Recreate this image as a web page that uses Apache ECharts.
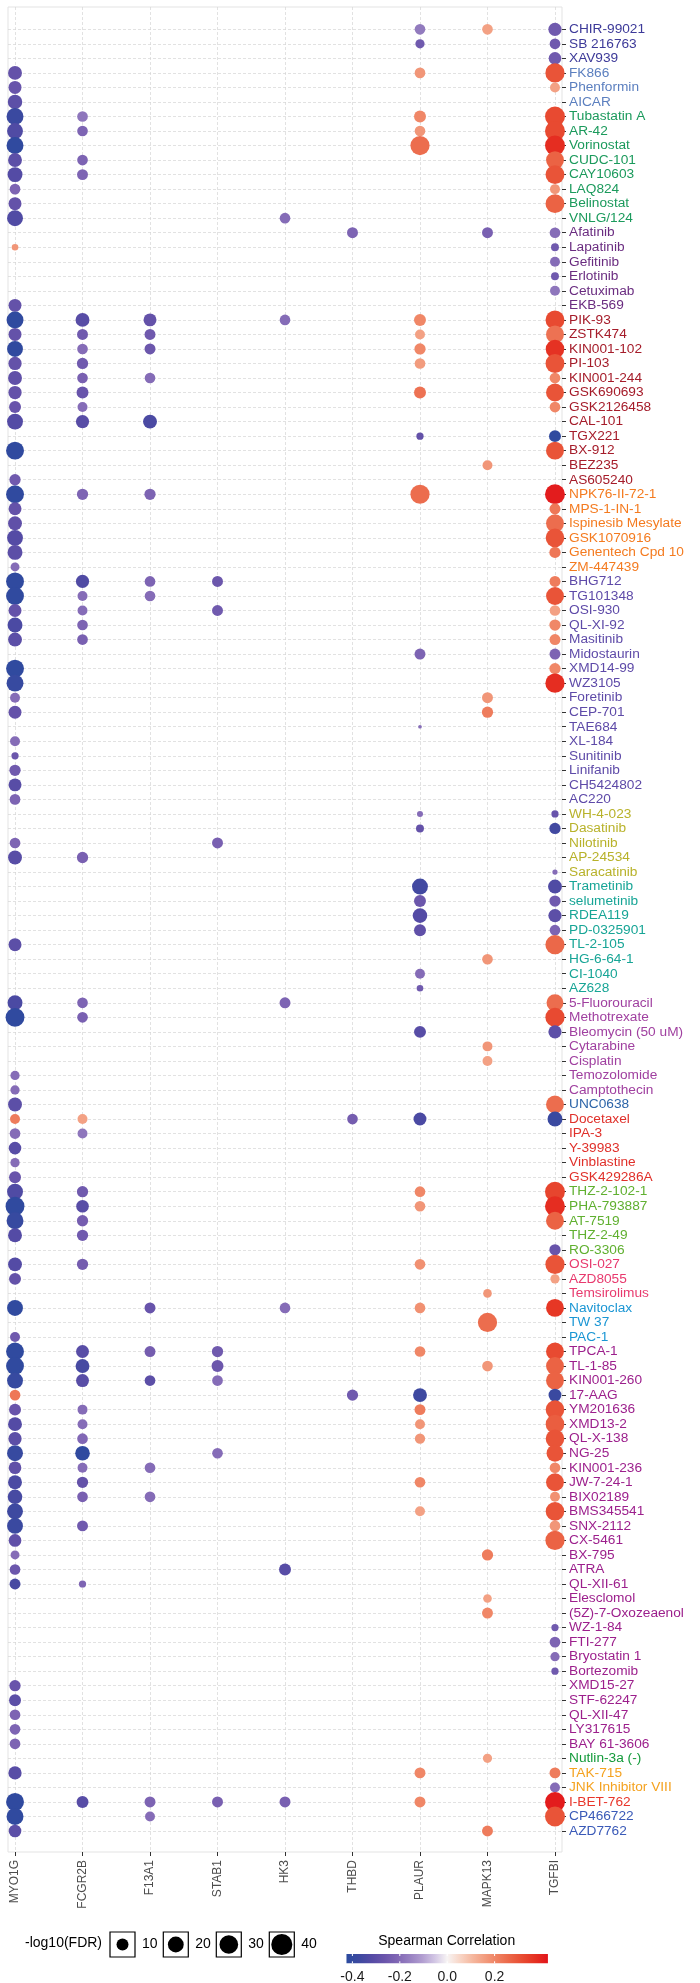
<!DOCTYPE html>
<html><head><meta charset="utf-8">
<script src="https://cdn.jsdelivr.net/npm/echarts@6/dist/echarts.min.js"></script>
<style>html,body{margin:0;padding:0;background:#fff}#c{width:700px;height:1983px}</style>
</head><body><div id="c"></div>
<script>
const genes = ['MYO1G','FCGR2B','F13A1','STAB1','HK3','THBD','PLAUR','MAPK13','TGFBI'];
const drugs = ['CHIR-99021','SB 216763','XAV939','FK866','Phenformin','AICAR','Tubastatin A','AR-42','Vorinostat','CUDC-101','CAY10603','LAQ824','Belinostat','VNLG/124','Afatinib','Lapatinib','Gefitinib','Erlotinib','Cetuximab','EKB-569','PIK-93','ZSTK474','KIN001-102','PI-103','KIN001-244','GSK690693','GSK2126458','CAL-101','TGX221','BX-912','BEZ235','AS605240','NPK76-II-72-1','MPS-1-IN-1','Ispinesib Mesylate','GSK1070916','Genentech Cpd 10','ZM-447439','BHG712','TG101348','OSI-930','QL-XI-92','Masitinib','Midostaurin','XMD14-99','WZ3105','Foretinib','CEP-701','TAE684','XL-184','Sunitinib','Linifanib','CH5424802','AC220','WH-4-023','Dasatinib','Nilotinib','AP-24534','Saracatinib','Trametinib','selumetinib','RDEA119','PD-0325901','TL-2-105','HG-6-64-1','CI-1040','AZ628','5-Fluorouracil','Methotrexate','Bleomycin (50 uM)','Cytarabine','Cisplatin','Temozolomide','Camptothecin','UNC0638','Docetaxel','IPA-3','Y-39983','Vinblastine','GSK429286A','THZ-2-102-1','PHA-793887','AT-7519','THZ-2-49','RO-3306','OSI-027','AZD8055','Temsirolimus','Navitoclax','TW 37','PAC-1','TPCA-1','TL-1-85','KIN001-260','17-AAG','YM201636','XMD13-2','QL-X-138','NG-25','KIN001-236','JW-7-24-1','BIX02189','BMS345541','SNX-2112','CX-5461','BX-795','ATRA','QL-XII-61','Elesclomol','(5Z)-7-Oxozeaenol','WZ-1-84','FTI-277','Bryostatin 1','Bortezomib','XMD15-27','STF-62247','QL-XII-47','LY317615','BAY 61-3606','Nutlin-3a (-)','TAK-715','JNK Inhibitor VIII','I-BET-762','CP466722','AZD7762'];
// number of consecutive drugs in each pathway group (top to bottom)
const groupSizes = [3,3,8,6,12,6,16,5,8,7,1,5,5,3,3,28,1,2,1,2];
// [drug, gene, Spearman rho, -log10(FDR)]
const points = [
['CHIR-99021','PLAUR',-0.17,7.5],['CHIR-99021','MAPK13',0.15,7.5],['CHIR-99021','TGFBI',-0.25,12.9],
['SB 216763','PLAUR',-0.25,5.2],['SB 216763','TGFBI',-0.25,7.5],
['XAV939','TGFBI',-0.25,11.5],
['FK866','MYO1G',-0.28,14.6],['FK866','PLAUR',0.17,7.5],['FK866','TGFBI',0.3,32],
['Phenformin','MYO1G',-0.27,12.2],['Phenformin','TGFBI',0.15,6.3],
['AICAR','MYO1G',-0.3,16],
['Tubastatin A','MYO1G',-0.38,23.6],['Tubastatin A','FCGR2B',-0.18,7.5],['Tubastatin A','PLAUR',0.2,10],['Tubastatin A','TGFBI',0.32,35],
['AR-42','MYO1G',-0.33,20.3],['AR-42','FCGR2B',-0.22,7.5],['AR-42','PLAUR',0.17,7.5],['AR-42','TGFBI',0.32,35],
['Vorinostat','MYO1G',-0.41,23.6],['Vorinostat','PLAUR',0.25,32],['Vorinostat','TGFBI',0.38,35],
['CUDC-101','MYO1G',-0.3,14.6],['CUDC-101','FCGR2B',-0.22,7.5],['CUDC-101','TGFBI',0.27,27],
['CAY10603','MYO1G',-0.32,17.4],['CAY10603','FCGR2B',-0.22,8],['CAY10603','TGFBI',0.3,30.8],
['LAQ824','MYO1G',-0.22,7.5],['LAQ824','TGFBI',0.17,6.3],
['Belinostat','MYO1G',-0.28,12.2],['Belinostat','TGFBI',0.27,30.8],
['VNLG/124','MYO1G',-0.33,20.3],['VNLG/124','HK3',-0.2,7.5],
['Afatinib','THBD',-0.22,8],['Afatinib','MAPK13',-0.23,8],['Afatinib','TGFBI',-0.2,7.5],
['Lapatinib','MYO1G',0.17,2.4],['Lapatinib','TGFBI',-0.25,3.6],
['Gefitinib','TGFBI',-0.2,6.3],
['Erlotinib','TGFBI',-0.25,3.6],
['Cetuximab','TGFBI',-0.18,6.3],
['EKB-569','MYO1G',-0.28,12.2],
['PIK-93','MYO1G',-0.41,23.6],['PIK-93','FCGR2B',-0.31,14.6],['PIK-93','F13A1',-0.28,12.2],['PIK-93','HK3',-0.2,7.5],['PIK-93','PLAUR',0.2,10],['PIK-93','TGFBI',0.32,30.8],
['ZSTK474','MYO1G',-0.28,12.2],['ZSTK474','FCGR2B',-0.25,8],['ZSTK474','F13A1',-0.25,8],['ZSTK474','PLAUR',0.15,6.3],['ZSTK474','TGFBI',0.24,27],
['KIN001-102','MYO1G',-0.41,20.3],['KIN001-102','FCGR2B',-0.2,7.5],['KIN001-102','F13A1',-0.26,8],['KIN001-102','PLAUR',0.2,8.6],['KIN001-102','TGFBI',0.37,29.6],
['PI-103','MYO1G',-0.28,12.9],['PI-103','FCGR2B',-0.25,8.6],['PI-103','PLAUR',0.16,7.5],['PI-103','TGFBI',0.3,30.8],
['KIN001-244','MYO1G',-0.29,14.6],['KIN001-244','FCGR2B',-0.23,7.5],['KIN001-244','F13A1',-0.2,7.5],['KIN001-244','TGFBI',0.2,7.5],
['GSK690693','MYO1G',-0.28,12.9],['GSK690693','FCGR2B',-0.27,10],['GSK690693','PLAUR',0.24,10],['GSK690693','TGFBI',0.3,27],
['GSK2126458','MYO1G',-0.27,10],['GSK2126458','FCGR2B',-0.2,6.3],['GSK2126458','TGFBI',0.2,7.5],
['CAL-101','MYO1G',-0.32,20.3],['CAL-101','FCGR2B',-0.31,12.9],['CAL-101','F13A1',-0.34,14.6],
['TGX221','PLAUR',-0.28,2.9],['TGX221','TGFBI',-0.41,10],
['BX-912','MYO1G',-0.41,27],['BX-912','TGFBI',0.3,27],
['BEZ235','MAPK13',0.17,6.3],
['AS605240','MYO1G',-0.25,8.6],
['NPK76-II-72-1','MYO1G',-0.41,27],['NPK76-II-72-1','FCGR2B',-0.22,8.6],['NPK76-II-72-1','F13A1',-0.22,8.6],['NPK76-II-72-1','PLAUR',0.25,32],['NPK76-II-72-1','TGFBI',0.41,35],
['MPS-1-IN-1','MYO1G',-0.28,12.2],['MPS-1-IN-1','TGFBI',0.23,8],
['Ispinesib Mesylate','MYO1G',-0.29,14.6],['Ispinesib Mesylate','TGFBI',0.25,27],
['GSK1070916','MYO1G',-0.32,20.3],['GSK1070916','TGFBI',0.3,29.6],
['Genentech Cpd 10','MYO1G',-0.3,17.4],['Genentech Cpd 10','TGFBI',0.23,8.6],
['ZM-447439','MYO1G',-0.2,4.8],
['BHG712','MYO1G',-0.41,27],['BHG712','FCGR2B',-0.33,12.9],['BHG712','F13A1',-0.22,7.5],['BHG712','STAB1',-0.26,8],['BHG712','TGFBI',0.22,8],
['TG101348','MYO1G',-0.41,27],['TG101348','FCGR2B',-0.2,6.3],['TG101348','F13A1',-0.2,7.5],['TG101348','TGFBI',0.3,27],
['OSI-930','MYO1G',-0.28,12.2],['OSI-930','FCGR2B',-0.2,6.3],['OSI-930','STAB1',-0.25,8],['OSI-930','TGFBI',0.15,7.5],
['QL-XI-92','MYO1G',-0.34,17.4],['QL-XI-92','FCGR2B',-0.22,7.5],['QL-XI-92','TGFBI',0.2,8.6],
['Masitinib','MYO1G',-0.3,14.6],['Masitinib','FCGR2B',-0.23,7.5],['Masitinib','TGFBI',0.2,8],
['Midostaurin','PLAUR',-0.22,8],['Midostaurin','TGFBI',-0.22,8],
['XMD14-99','MYO1G',-0.41,27],['XMD14-99','TGFBI',0.2,8.6],
['WZ3105','MYO1G',-0.39,23.6],['WZ3105','TGFBI',0.38,32],
['Foretinib','MYO1G',-0.2,6.3],['Foretinib','MAPK13',0.17,8],
['CEP-701','MYO1G',-0.28,12.2],['CEP-701','MAPK13',0.22,8.6],
['TAE684','PLAUR',-0.2,1.3],
['XL-184','MYO1G',-0.2,6.3],
['Sunitinib','MYO1G',-0.26,2.9],
['Linifanib','MYO1G',-0.25,8.6],
['CH5424802','MYO1G',-0.31,12.2],
['AC220','MYO1G',-0.22,7.5],
['WH-4-023','PLAUR',-0.2,2.0],['WH-4-023','TGFBI',-0.27,2.9],
['Dasatinib','PLAUR',-0.28,3.6],['Dasatinib','TGFBI',-0.36,8.6],
['Nilotinib','MYO1G',-0.22,7.5],['Nilotinib','STAB1',-0.23,8],
['AP-24534','MYO1G',-0.31,14.6],['AP-24534','FCGR2B',-0.23,8.6],
['Saracatinib','TGFBI',-0.2,1.6],
['Trametinib','PLAUR',-0.36,20.3],['Trametinib','TGFBI',-0.33,14.6],
['selumetinib','PLAUR',-0.26,10],['selumetinib','TGFBI',-0.25,8.6],
['RDEA119','PLAUR',-0.32,16.5],['RDEA119','TGFBI',-0.3,12.9],
['PD-0325901','PLAUR',-0.29,10],['PD-0325901','TGFBI',-0.22,7.5],
['TL-2-105','MYO1G',-0.3,12.2],['TL-2-105','TGFBI',0.26,32],
['HG-6-64-1','MAPK13',0.17,7.5],
['CI-1040','PLAUR',-0.2,6.3],
['AZ628','PLAUR',-0.25,2.4],
['5-Fluorouracil','MYO1G',-0.34,17.4],['5-Fluorouracil','FCGR2B',-0.22,7.5],['5-Fluorouracil','HK3',-0.22,8],['5-Fluorouracil','TGFBI',0.25,23.6],
['Methotrexate','MYO1G',-0.41,30.8],['Methotrexate','FCGR2B',-0.23,7.5],['Methotrexate','TGFBI',0.32,32],
['Bleomycin (50 uM)','PLAUR',-0.31,10],['Bleomycin (50 uM)','TGFBI',-0.3,12.9],
['Cytarabine','MAPK13',0.17,6.3],
['Cisplatin','MAPK13',0.15,6.3],
['Temozolomide','MYO1G',-0.2,5.2],
['Camptothecin','MYO1G',-0.2,5.2],
['UNC0638','MYO1G',-0.3,14.6],['UNC0638','TGFBI',0.25,27],
['Docetaxel','MYO1G',0.22,6.3],['Docetaxel','FCGR2B',0.15,6.3],['Docetaxel','THBD',-0.24,7.5],['Docetaxel','PLAUR',-0.34,12.2],['Docetaxel','TGFBI',-0.38,17.4],
['IPA-3','MYO1G',-0.2,7.5],['IPA-3','FCGR2B',-0.18,6.3],
['Y-39983','MYO1G',-0.31,11.5],
['Vinblastine','MYO1G',-0.2,5.2],
['GSK429286A','MYO1G',-0.27,10],
['THZ-2-102-1','MYO1G',-0.33,20.3],['THZ-2-102-1','FCGR2B',-0.25,8.6],['THZ-2-102-1','PLAUR',0.2,7.5],['THZ-2-102-1','TGFBI',0.33,35],
['PHA-793887','MYO1G',-0.41,30.8],['PHA-793887','FCGR2B',-0.31,11.5],['PHA-793887','PLAUR',0.17,7.5],['PHA-793887','TGFBI',0.38,35],
['AT-7519','MYO1G',-0.39,23.6],['AT-7519','FCGR2B',-0.24,8.6],['AT-7519','TGFBI',0.27,27],
['THZ-2-49','MYO1G',-0.32,14.6],['THZ-2-49','FCGR2B',-0.25,8.6],
['RO-3306','TGFBI',-0.27,8.6],
['OSI-027','MYO1G',-0.32,14.6],['OSI-027','FCGR2B',-0.24,8.6],['OSI-027','PLAUR',0.18,7.5],['OSI-027','TGFBI',0.3,32],
['AZD8055','MYO1G',-0.28,10],['AZD8055','TGFBI',0.15,5.2],
['Temsirolimus','MAPK13',0.17,4.4],
['Navitoclax','MYO1G',-0.41,20.3],['Navitoclax','F13A1',-0.27,8],['Navitoclax','HK3',-0.2,7.5],['Navitoclax','PLAUR',0.18,7.5],['Navitoclax','TGFBI',0.36,27],
['TW 37','MAPK13',0.25,32],
['PAC-1','MYO1G',-0.25,6.3],
['TPCA-1','MYO1G',-0.41,27],['TPCA-1','FCGR2B',-0.31,12.2],['TPCA-1','F13A1',-0.24,8],['TPCA-1','STAB1',-0.25,8.6],['TPCA-1','PLAUR',0.2,7.5],['TPCA-1','TGFBI',0.32,27],
['TL-1-85','MYO1G',-0.41,27],['TL-1-85','FCGR2B',-0.35,14.6],['TL-1-85','STAB1',-0.26,10],['TL-1-85','MAPK13',0.17,7.5],['TL-1-85','TGFBI',0.27,27],
['KIN001-260','MYO1G',-0.39,20.3],['KIN001-260','FCGR2B',-0.31,12.2],['KIN001-260','F13A1',-0.3,7.5],['KIN001-260','STAB1',-0.2,7.5],['KIN001-260','TGFBI',0.27,27],
['17-AAG','MYO1G',0.23,7.5],['17-AAG','THBD',-0.25,8.6],['17-AAG','PLAUR',-0.37,14.6],['17-AAG','TGFBI',-0.38,12],
['YM201636','MYO1G',-0.27,10],['YM201636','FCGR2B',-0.2,6.3],['YM201636','PLAUR',0.22,8],['YM201636','TGFBI',0.3,29.6],
['XMD13-2','MYO1G',-0.32,14.6],['XMD13-2','FCGR2B',-0.2,6.3],['XMD13-2','PLAUR',0.17,6.3],['XMD13-2','TGFBI',0.28,29.6],
['QL-X-138','MYO1G',-0.3,12.9],['QL-X-138','FCGR2B',-0.21,7.5],['QL-X-138','PLAUR',0.17,6.8],['QL-X-138','TGFBI',0.3,29.6],
['NG-25','MYO1G',-0.39,20.3],['NG-25','FCGR2B',-0.41,16.5],['NG-25','STAB1',-0.2,7.5],['NG-25','TGFBI',0.3,23.6],
['KIN001-236','MYO1G',-0.29,11.5],['KIN001-236','FCGR2B',-0.2,6.3],['KIN001-236','F13A1',-0.2,7.5],['KIN001-236','TGFBI',0.2,7.5],
['JW-7-24-1','MYO1G',-0.34,14.6],['JW-7-24-1','FCGR2B',-0.28,8.6],['JW-7-24-1','PLAUR',0.2,7.5],['JW-7-24-1','TGFBI',0.3,27],
['BIX02189','MYO1G',-0.35,16.5],['BIX02189','FCGR2B',-0.23,7.5],['BIX02189','F13A1',-0.2,7.5],['BIX02189','TGFBI',0.18,6.3],
['BMS345541','MYO1G',-0.37,20.3],['BMS345541','PLAUR',0.15,6.3],['BMS345541','TGFBI',0.3,29.6],
['SNX-2112','MYO1G',-0.38,20.3],['SNX-2112','FCGR2B',-0.25,8],['SNX-2112','TGFBI',0.17,7.5],
['CX-5461','MYO1G',-0.29,11.5],['CX-5461','TGFBI',0.27,32],
['BX-795','MYO1G',-0.2,4.8],['BX-795','MAPK13',0.22,8.6],
['ATRA','MYO1G',-0.26,7.5],['ATRA','HK3',-0.31,10],
['QL-XII-61','MYO1G',-0.35,8],['QL-XII-61','FCGR2B',-0.22,2.9],
['Elesclomol','MAPK13',0.15,4.4],
['(5Z)-7-Oxozeaenol','MAPK13',0.2,8],
['WZ-1-84','TGFBI',-0.25,2.9],
['FTI-277','TGFBI',-0.22,7.5],
['Bryostatin 1','TGFBI',-0.2,5.2],
['Bortezomib','TGFBI',-0.25,2.9],
['XMD15-27','MYO1G',-0.27,8.6],
['STF-62247','MYO1G',-0.3,10],
['QL-XII-47','MYO1G',-0.22,7.5],
['LY317615','MYO1G',-0.22,7.5],
['BAY 61-3606','MYO1G',-0.22,7.5],
['Nutlin-3a (-)','MAPK13',0.15,5.2],
['TAK-715','MYO1G',-0.31,12.9],['TAK-715','PLAUR',0.2,8],['TAK-715','TGFBI',0.22,8],
['JNK Inhibitor VIII','TGFBI',-0.2,6.3],
['I-BET-762','MYO1G',-0.41,27],['I-BET-762','FCGR2B',-0.31,10],['I-BET-762','F13A1',-0.22,8],['I-BET-762','STAB1',-0.23,8],['I-BET-762','HK3',-0.23,8],['I-BET-762','PLAUR',0.2,8],['I-BET-762','TGFBI',0.41,35],
['CP466722','MYO1G',-0.41,23.6],['CP466722','F13A1',-0.2,6.3],['CP466722','TGFBI',0.3,35],
['AZD7762','MYO1G',-0.3,11.5],['AZD7762','MAPK13',0.22,8]
];
const sizeLegendValues = [10,20,30,40];
const colorTicks = [-0.4,-0.2,0.0,0.2];

// ---- styles ----
const groupColors = ['#3d3a99','#5b7fbf','#1b9a5c','#6a2c80','#a51c2a','#f47b20','#5e4aa8','#b8b22a','#17a596','#a040a0','#2c64a8','#e0302a','#60b030','#e83a6e','#1a96d4','#9c1f8c','#139a3a','#f5a21f','#e8352a','#3a5ab8'];
const colorMin = -0.425, colorMax = 0.425;
const palette = ['#2b4b9f','#3d49a0','#554ba5','#6a55ab','#8066b4','#9780c1','#b19dd0','#d2c6e4','#f7f4f4','#f8d6c7','#f5b89f','#f29c7e','#ef8060','#eb6546','#e84b31','#e53122','#e2141b'];
const FDR_LO = 1.3, FDR_HI = 45;
function sizeOf(v){ return 3.7*(1+5*Math.sqrt(Math.max(0,v-FDR_LO)/(FDR_HI-FDR_LO))); }

const drugColor = [];
groupSizes.forEach((n,g)=>{ for(let i=0;i<n;i++) drugColor.push(groupColors[g]); });

const data = points.map(p => [genes.indexOf(p[1])+1, drugs.indexOf(p[0]), p[2], p[3]]);

const chart = echarts.init(document.getElementById('c'), null, {renderer:'canvas'});
const gridTop = 7, gridBottom = 131, gridLeft = 8, gridRight = 138;

// legend graphics
const legendY = 1944.5, FONT = 'Liberation Sans, Arial, Helvetica, sans-serif';
const gfx = [];
gfx.push({type:'text', left:25, top:legendY-8, style:{text:'-log10(FDR)', font:'14px '+FONT, fill:'#000'}});
const boxX = [110,163.3,216.3,269.3];
sizeLegendValues.forEach((v,i)=>{
  const bx = boxX[i];
  gfx.push({type:'rect', shape:{x:bx, y:legendY-12.5, width:25, height:25}, style:{fill:'#fff', stroke:'#000', lineWidth:1.2}});
  gfx.push({type:'circle', shape:{cx:bx+12.5, cy:legendY, r:sizeOf(v)/2}, style:{fill:'#000'}});
  gfx.push({type:'text', x:bx+32, y:legendY, style:{text:String(v), font:'14px '+FONT, fill:'#000', textVerticalAlign:'middle', verticalAlign:'middle'}});
});
const cbCenter = 447.2, cbScale = 237, cbTop = 1954, cbH = 9.3;
const cx = v => cbCenter + v*cbScale;
gfx.push({type:'text', x:cx(0)-0.5, y:1941, style:{text:'Spearman Correlation', font:'14px '+FONT, fill:'#000', align:'center', textAlign:'center', verticalAlign:'middle', textVerticalAlign:'middle'}});
gfx.push({type:'rect', shape:{x:cx(colorMin), y:cbTop, width:cx(colorMax)-cx(colorMin), height:cbH},
  style:{fill:new echarts.graphic.LinearGradient(0,0,1,0, palette.map((c,i)=>({offset:i/(palette.length-1), color:c})))}});
colorTicks.forEach(t=>{
  gfx.push({type:'line', shape:{x1:cx(t), y1:cbTop, x2:cx(t), y2:cbTop+2}, style:{stroke:'#fff', lineWidth:1}});
  gfx.push({type:'line', shape:{x1:cx(t), y1:cbTop+cbH-2, x2:cx(t), y2:cbTop+cbH}, style:{stroke:'#fff', lineWidth:1}});
  gfx.push({type:'text', x:cx(t), y:1977, style:{text:t.toFixed(1), font:'14px '+FONT, fill:'#1a1a1a', align:'center', textAlign:'center', verticalAlign:'middle', textVerticalAlign:'middle'}});
});

const xTicks = genes.map((g,i)=>i+1);
const yTicks = drugs.map((d,i)=>i);
const gridLine = {show:true, lineStyle:{color:'#d6d6d6', width:0.7, type:[3,2]}};

chart.setOption({
  animation:false,
  backgroundColor:'#fff',
  grid:{left:gridLeft, right:gridRight, top:gridTop, bottom:gridBottom, show:true, borderColor:'#e3e3e3', borderWidth:1, backgroundColor:'transparent', containLabel:false},
  xAxis:{type:'value', min:0.896, max:9.104, position:'bottom',
    axisLine:{show:false, onZero:false},
    axisTick:{show:true, length:4, customValues:xTicks, lineStyle:{color:'#333', width:1}},
    axisLabel:{customValues:xTicks, rotate:90, margin:8, color:'#4d4d4d', fontSize:12, fontFamily:FONT,
      formatter:v=>genes[Math.round(v)-1]},
    splitLine:gridLine},
  yAxis:{type:'value', inverse:true, position:'right', min:-1.535, max:125.445,
    axisLine:{show:false, onZero:false},
    axisTick:{show:true, length:4, customValues:yTicks, lineStyle:{color:'#333', width:1}},
    axisLabel:{customValues:yTicks, margin:7, fontSize:13.7, fontFamily:FONT,
      formatter:v=>drugs[Math.round(v)],
      color:(v)=>drugColor[Math.round(Number(v))]},
    splitLine:gridLine},
  visualMap:{show:false, type:'continuous', dimension:2, seriesIndex:0, min:colorMin, max:colorMax, inRange:{color:palette}},
  series:[{type:'scatter', data:data, encode:{x:0,y:1},
    symbolSize:val=>sizeOf(val[3]), itemStyle:{opacity:1}, emphasis:{disabled:true}}],
  graphic:gfx
});
</script></body></html>
